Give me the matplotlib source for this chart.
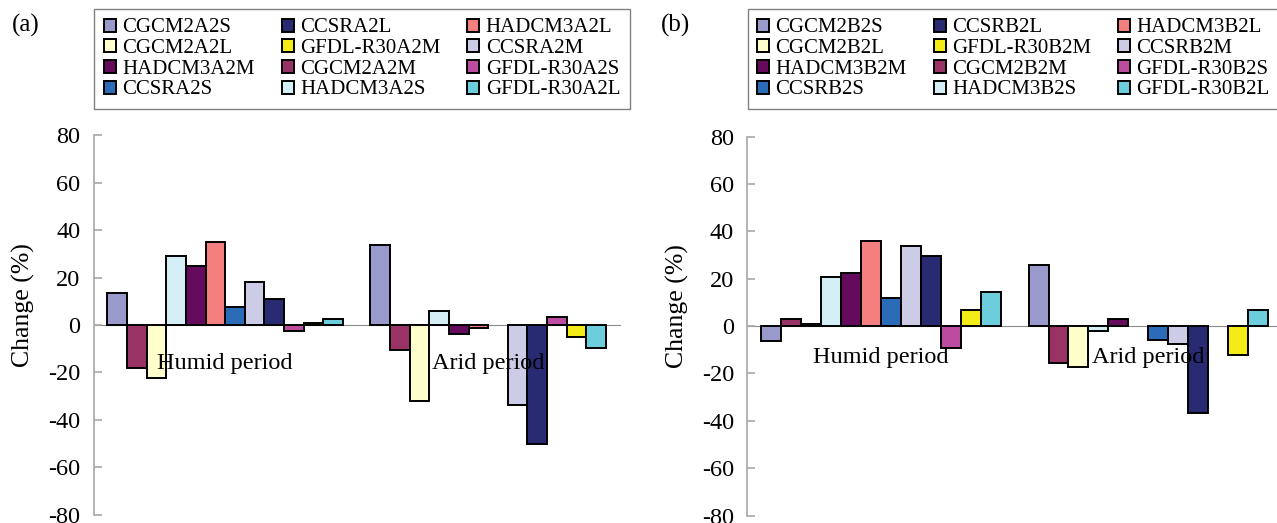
import matplotlib
matplotlib.use("Agg")
import matplotlib.pyplot as plt
import numpy as np

plt.rcParams['font.family'] = ['Liberation Serif', 'DejaVu Serif']
plt.rcParams['axes.unicode_minus'] = False

# categories on the x axis
periods = ['Humid period', 'Arid period']

# series order as the bars stand in each group
names_a = ['CGCM2A2S', 'CGCM2A2M', 'CGCM2A2L',
           'HADCM3A2S', 'HADCM3A2M', 'HADCM3A2L',
           'CCSRA2S', 'CCSRA2M', 'CCSRA2L',
           'GFDL-R30A2S', 'GFDL-R30A2M', 'GFDL-R30A2L']
names_b = ['CGCM2B2S', 'CGCM2B2M', 'CGCM2B2L',
           'HADCM3B2S', 'HADCM3B2M', 'HADCM3B2L',
           'CCSRB2S', 'CCSRB2M', 'CCSRB2L',
           'GFDL-R30B2S', 'GFDL-R30B2M', 'GFDL-R30B2L']

colors = ['#9999cc', '#993366', '#ffffcc',
          '#d3eef4', '#660a5e', '#f47f7f',
          '#2b6cb8', '#cccce6', '#282a72',
          '#bb4ca0', '#f4ec16', '#6ccedc']

# change (%) per series: [humid, arid]
humid_a = [13.5, -18.2, -22.4, 29.2, 25.0, 35.0, 7.8, 18.0, 11.0, -2.6, 0.8, 2.5]
arid_a = [33.6, -10.5, -32.1, 5.9, -3.6, -1.2, 0.0, -33.6, -50.3, 3.2, -5.2, -9.7]
humid_b = [-6.5, 2.8, 0.7, 20.7, 22.3, 35.9, 11.8, 33.7, 29.6, -9.2, 7.0, 14.3]
arid_b = [25.7, -15.5, -17.3, -2.0, 2.8, 0.0, -5.8, -7.6, -36.5, 0.0, -12.4, 7.0]

yticks = [-80, -60, -40, -20, 0, 20, 40, 60, 80]

# legend is filled column by column (3 columns x 4 rows)
legend_order = [0, 2, 4, 6, 8, 10, 1, 3, 5, 7, 9, 11]

W, H = 1277, 523
fig = plt.figure(figsize=(W / 100, H / 100), dpi=100)

axis_grey = '#a8a8a8'


def panel(rect, names, humid, arid, leg_xy, tag, tag_x, label_x, xpad):
    ax = fig.add_axes(rect)
    ax.set_axisbelow(False)
    n = len(names)
    w = 1 / 13.4
    x = np.arange(len(periods))
    bars = []
    for i in range(n):
        vals = [humid[i], arid[i]]
        lws = [0 if v == 0 else 1.4 for v in vals]
        b = ax.bar(x + (i - (n - 1) / 2) * w, vals, width=w, color=colors[i],
                   edgecolor='black', linewidth=lws, zorder=2)
        bars.append(b)

    ax.set_xlim(-0.5, 1.5)
    ax.set_ylim(-80, 80)
    ax.set_yticks(yticks)
    ax.set_xticks(x, periods)

    for s in ['top', 'right']:
        ax.spines[s].set_visible(False)
    ax.spines['left'].set_color(axis_grey)
    ax.spines['left'].set_linewidth(1.2)
    ax.spines['bottom'].set_position(('data', 0))
    ax.spines['bottom'].set_color('#8c8c8c')
    ax.spines['bottom'].set_linewidth(0.8)
    ax.spines['bottom'].set_zorder(1)

    ax.tick_params(axis='y', direction='in', length=6, width=1.2,
                   color=axis_grey, labelsize=17.5, pad=9.5)
    ax.tick_params(axis='x', length=0, labelsize=17.5, pad=xpad)

    ax.set_ylabel('Change (%)', fontsize=18.5)
    ax.yaxis.set_label_coords(label_x, 0.553)

    leg = ax.legend([bars[k] for k in legend_order], [names[k] for k in legend_order],
                    loc='upper left', bbox_to_anchor=leg_xy, bbox_transform=fig.transFigure,
                    ncol=3, fontsize=15, frameon=True, fancybox=False,
                    edgecolor='#808080', framealpha=1, borderpad=0.45, borderaxespad=0,
                    handlelength=0.58, handleheight=0.58, handletextpad=0.3,
                    columnspacing=1.3, labelspacing=0.08)
    leg.get_frame().set_linewidth(1.0)
    leg.set_zorder(5)

    fig.text(tag_x, 1 - 25 / H, tag, fontsize=18, va='center')
    return ax


panel([93.7 / W, 1 - 514.7 / H, 526 / W, (514.7 - 135.3) / H],
      names_a, humid_a, arid_a, (94.3 / W, 1 - 9 / H), '(a)', 11.7 / W, -0.112, 20)
panel([747.1 / W, 1 - 515.5 / H, 535 / W, (515.5 - 136.7) / H],
      names_b, humid_b, arid_b, (747.5 / W, 1 - 9 / H), '(b)', 660.5 / W, -0.1086, 15)

fig.savefig('out.png', dpi=100)
